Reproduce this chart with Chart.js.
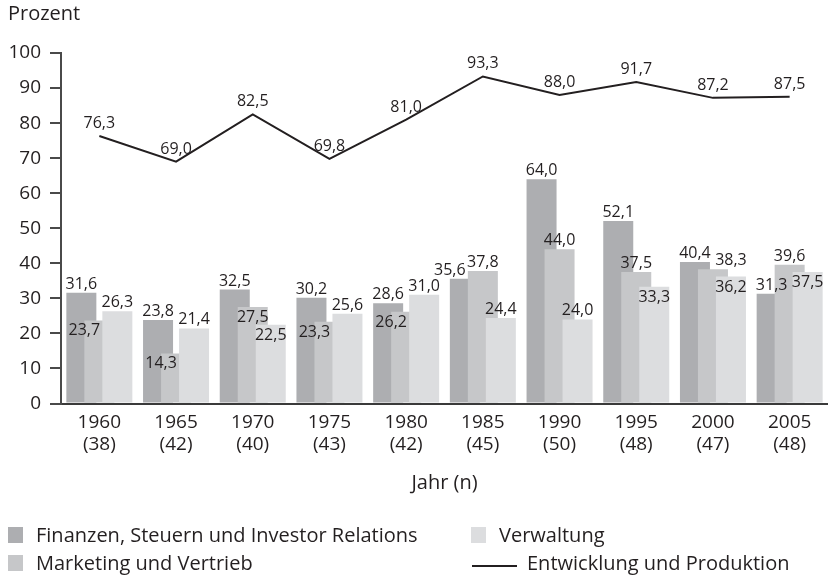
<!DOCTYPE html>
<html lang="de">
<head>
<meta charset="utf-8">
<script src="https://cdn.jsdelivr.net/npm/chart.js@4"></script>
<style>
  body { margin: 0; background: #fff; }
  #wrap { position: relative; width: 828px; height: 575px; font-family: 'Open Sans', sans-serif; color: #231f20; }
  #wrap canvas { position: absolute; left: 0; top: 0; }
  .txt { position: absolute; font-size: 20px; line-height: 22px; white-space: nowrap; }
  .box { position: absolute; width: 15px; height: 16px; }
  .line { position: absolute; width: 45px; height: 2px; background: #231f20; }
</style>
</head>
<body>
<div id="wrap">
  <canvas id="chart" width="828" height="575"></canvas>
  <div class="txt" style="left:8px; top:2px;">Prozent</div>
  <div id="legend"></div>
</div>
<script>
//DATEN:
const years = ['1960', '1965', '1970', '1975', '1980', '1985', '1990', '1995', '2000', '2005']
const sampleSizes = ['(38)', '(42)', '(40)', '(43)', '(42)', '(45)', '(50)', '(48)', '(47)', '(48)']
const finanzen = [31.6, 23.8, 32.5, 30.2, 28.6, 35.6, 64.0, 52.1, 40.4, 31.3]
const marketing = [23.7, 14.3, 27.5, 23.3, 26.2, 37.8, 44.0, 37.5, 38.3, 39.6]
const verwaltung = [26.3, 21.4, 22.5, 25.6, 31.0, 24.4, 24.0, 33.3, 36.2, 37.5]
const entwicklung = [76.3, 69.0, 82.5, 69.8, 81.0, 93.3, 88.0, 91.7, 87.2, 87.5]
const seriesNames = ['Finanzen, Steuern und Investor Relations', 'Marketing und Vertrieb', 'Verwaltung', 'Entwicklung und Produktion']

//Wo die Werte-Beschriftung sitzt (über / im Balken, verschoben):
const posFinanzen = ['top', 'top', 'top', 'top', 'top', 'topL', 'top', 'top', 'top', 'top']
const posMarketing = ['inL', 'inL', 'in', 'inL', 'inL', 'top', 'top', 'top', 'topR', 'top']
const posVerwaltung = ['top', 'top', 'in', 'top', 'top', 'top', 'top', 'in', 'in', 'in']

const textColor = '#231f20'
const colors = ['#adaeb1', '#c6c7c9', '#dcdddf']

let fmt = v => v.toFixed(1).replace('.', ',')

//Balken von links nach rechts zeichnen, damit der rechte oben liegt
const drawOrder = {
  id: 'drawOrder',
  beforeDatasetsDraw(chart) {
    chart.data.datasets.forEach((ds, i) => {
      const meta = chart.getDatasetMeta(i)
      if (meta.type === 'bar' && chart.isDatasetVisible(i)) meta.controller.draw()
    })
  },
  beforeDatasetDraw(chart, args) {
    if (args.meta.type === 'bar') return false
  }
}

//Werte an Balken und Linie schreiben
const valueLabels = {
  id: 'valueLabels',
  afterDatasetsDraw(chart) {
    const ctx = chart.ctx
    ctx.save()
    ctx.font = '16px "Open Sans"'
    ctx.fillStyle = textColor
    ctx.textAlign = 'center'
    ctx.textBaseline = 'alphabetic'
    chart.data.datasets.forEach((ds, i) => {
      const meta = chart.getDatasetMeta(i)
      meta.data.forEach((el, j) => {
        const txt = fmt(ds.data[j])
        if (meta.type === 'line') {
          ctx.fillText(txt, el.x, el.y - 8)
          return
        }
        const pos = ds.labelPos[j]
        let x = el.x
        let y = el.y - 4
        if (pos.startsWith('in')) y = el.y + 15
        if (pos === 'inL') x = el.x - el.width / 2
        if (pos === 'topR') x = el.x + 18
        if (pos === 'topL') x = el.x - 15
        ctx.fillText(txt, x, y)
      })
    })
    ctx.restore()
  }
}

function buildChart() {
  const ctx = document.querySelector('#chart')
  const chart = new Chart(ctx, {
    data: {
      labels: years.map((y, i) => [y, sampleSizes[i]]),
      datasets: [
        { type: 'bar', label: seriesNames[0], data: finanzen, backgroundColor: colors[0], labelPos: posFinanzen },
        { type: 'bar', label: seriesNames[1], data: marketing, backgroundColor: colors[1], labelPos: posMarketing },
        { type: 'bar', label: seriesNames[2], data: verwaltung, backgroundColor: colors[2], labelPos: posVerwaltung },
        { type: 'line', label: seriesNames[3], data: entwicklung, borderColor: textColor, borderWidth: 2,
          pointRadius: 0, tension: 0, fill: false }
      ]
    },
    options: {
      responsive: false,
      animation: false,
      events: [],
      categoryPercentage: 0.704,
      barPercentage: 1.667,
      layout: { padding: { left: 0, right: 0, top: 53, bottom: 71.5 } },
      plugins: { legend: { display: false }, tooltip: { enabled: false } },
      scales: {
        x: {
          afterFit: scale => { scale.height = 100 },
          grid: { display: false, drawTicks: false },
          border: { display: true, color: '#3a3a3a', width: 2 },
          ticks: { color: textColor, padding: 8, font: { family: 'Open Sans', size: 19, lineHeight: 1.15 } },
          title: { display: true, text: 'Jahr (n)', color: textColor, padding: { top: 0, bottom: 8 },
            font: { family: 'Open Sans', size: 20, lineHeight: 1.2 } }
        },
        y: {
          min: 0,
          max: 100,
          afterFit: scale => { scale.width = 61 },
          grid: { drawOnChartArea: false, tickLength: 11, color: '#4a4a4a', lineWidth: 2 },
          border: { color: '#4a4a4a', width: 2 },
          ticks: { stepSize: 10, padding: 9, color: textColor, font: { family: 'Open Sans', size: 19 } }
        }
      }
    },
    plugins: [drawOrder, valueLabels]
  })

  //Legende in zwei Spalten
  const legend = document.querySelector('#legend')
  const spots = [[8, 524], [8, 552], [471, 524], [471, 552]]
  chart.data.datasets.forEach((ds, i) => {
    const [x, y] = spots[i]
    let mark
    if (ds.type === 'line') {
      mark = `<div class="line" style="left:${x + 1}px; top:${y + 13}px;"></div>`
      legend.insertAdjacentHTML('beforeend', mark + `<div class="txt" style="left:${x + 56}px; top:${y}px;">${ds.label}</div>`)
    } else {
      mark = `<div class="box" style="left:${x}px; top:${y + 3}px; background:${ds.backgroundColor};"></div>`
      legend.insertAdjacentHTML('beforeend', mark + `<div class="txt" style="left:${x + 28}px; top:${y}px;">${ds.label}</div>`)
    }
  })
}

document.fonts.load('18px "Open Sans"').then(buildChart, buildChart)
</script>
</body>
</html>
